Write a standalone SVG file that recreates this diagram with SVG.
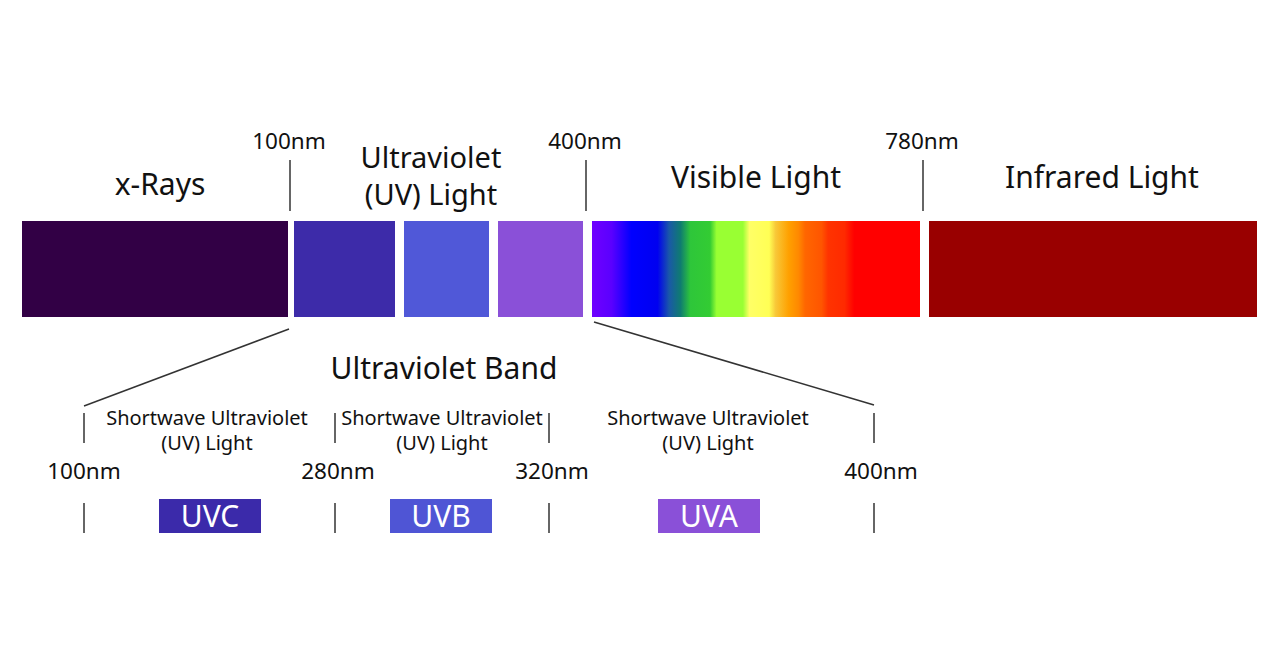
<svg xmlns="http://www.w3.org/2000/svg" width="1280" height="654" viewBox="0 0 1280 654">
<defs>
<style>
text{font-family:"Noto Sans","Open Sans",sans-serif;fill:#111;text-anchor:middle}
.big{font-size:30px}
.uvl{font-size:29px}
.nm{font-size:22.5px}
.sm{font-size:20px}
.tag{font-size:30px;fill:#fff}
.tick{stroke:#333;stroke-width:1.5}
</style>
<linearGradient id="vis" x1="592" y1="0" x2="920" y2="0" gradientUnits="userSpaceOnUse">
<stop offset="0" stop-color="#7000ff"/>
<stop offset="0.06" stop-color="#5a00ff"/>
<stop offset="0.12" stop-color="#0000ff"/>
<stop offset="0.2" stop-color="#0000f0"/>
<stop offset="0.235" stop-color="#1a58a8"/>
<stop offset="0.27" stop-color="#0f7c70"/>
<stop offset="0.3" stop-color="#2ec63a"/>
<stop offset="0.36" stop-color="#33cc33"/>
<stop offset="0.38" stop-color="#99ff33"/>
<stop offset="0.46" stop-color="#99ff33"/>
<stop offset="0.48" stop-color="#ffff66"/>
<stop offset="0.54" stop-color="#ffff55"/>
<stop offset="0.56" stop-color="#f8c838"/>
<stop offset="0.6" stop-color="#ffa000"/>
<stop offset="0.63" stop-color="#ff8800"/>
<stop offset="0.65" stop-color="#ff6600"/>
<stop offset="0.7" stop-color="#ff5500"/>
<stop offset="0.72" stop-color="#ff3300"/>
<stop offset="0.77" stop-color="#ff2a00"/>
<stop offset="0.8" stop-color="#ff0000"/>
<stop offset="1" stop-color="#ff0000"/>
</linearGradient>
</defs>
<rect width="1280" height="654" fill="#fff"/>

<g id="xrays">
<rect x="22" y="221" width="266" height="96" fill="#320045"/>
<text class="big" x="160" y="195">x-Rays</text>
</g>
<g id="uv-light">
<rect x="294" y="221" width="101" height="96" fill="#3d2ba9"/>
<rect x="404" y="221" width="85" height="96" fill="#5058d8"/>
<rect x="498" y="221" width="85" height="96" fill="#8a50d8"/>
<text class="uvl" x="431" y="168">Ultraviolet</text>
<text class="uvl" x="431" y="205">(UV) Light</text>
</g>
<g id="visible">
<rect x="592" y="221" width="328" height="96" fill="url(#vis)"/>
<text class="big" x="756" y="188">Visible Light</text>
</g>
<g id="infrared">
<rect x="929" y="221" width="328" height="96" fill="#990000"/>
<text class="big" x="1102" y="188">Infrared Light</text>
</g>
<g id="top-marks">
<text class="nm" x="289" y="149">100nm</text>
<line class="tick" x1="290" y1="160" x2="290" y2="211"/>
<text class="nm" x="585" y="149">400nm</text>
<line class="tick" x1="586" y1="160" x2="586" y2="211"/>
<text class="nm" x="922" y="149">780nm</text>
<line class="tick" x1="923" y1="160" x2="923" y2="211"/>
</g>

<g id="connectors">
<line class="tick" x1="289" y1="329" x2="84" y2="406"/>
<line class="tick" x1="594" y1="322" x2="874" y2="405"/>
</g>

<g id="uv-band">
<text class="big" x="444" y="379">Ultraviolet Band</text>
<line class="tick" x1="84" y1="413" x2="84" y2="443"/>
<line class="tick" x1="335" y1="413" x2="335" y2="443"/>
<line class="tick" x1="549" y1="413" x2="549" y2="443"/>
<line class="tick" x1="874" y1="413" x2="874" y2="443"/>
<line class="tick" x1="84" y1="503" x2="84" y2="533"/>
<line class="tick" x1="335" y1="503" x2="335" y2="533"/>
<line class="tick" x1="549" y1="503" x2="549" y2="533"/>
<line class="tick" x1="874" y1="503" x2="874" y2="533"/>
<text class="nm" x="84" y="479">100nm</text>
<text class="nm" x="338" y="479">280nm</text>
<text class="nm" x="552" y="479">320nm</text>
<text class="nm" x="881" y="479">400nm</text>
</g>
<g id="uvc">
<text class="sm" x="207" y="425">Shortwave Ultraviolet</text>
<text class="sm" x="207" y="450">(UV) Light</text>
<rect x="159" y="499" width="102" height="34" fill="#3b2aaa"/>
<text class="tag" x="210" y="527">UVC</text>
</g>
<g id="uvb">
<text class="sm" x="442" y="425">Shortwave Ultraviolet</text>
<text class="sm" x="442" y="450">(UV) Light</text>
<rect x="390" y="499" width="102" height="34" fill="#4f55d5"/>
<text class="tag" x="441" y="527">UVB</text>
</g>
<g id="uva">
<text class="sm" x="708" y="425">Shortwave Ultraviolet</text>
<text class="sm" x="708" y="450">(UV) Light</text>
<rect x="658" y="499" width="102" height="34" fill="#8a50d8"/>
<text class="tag" x="709" y="527">UVA</text>
</g>
</svg>
